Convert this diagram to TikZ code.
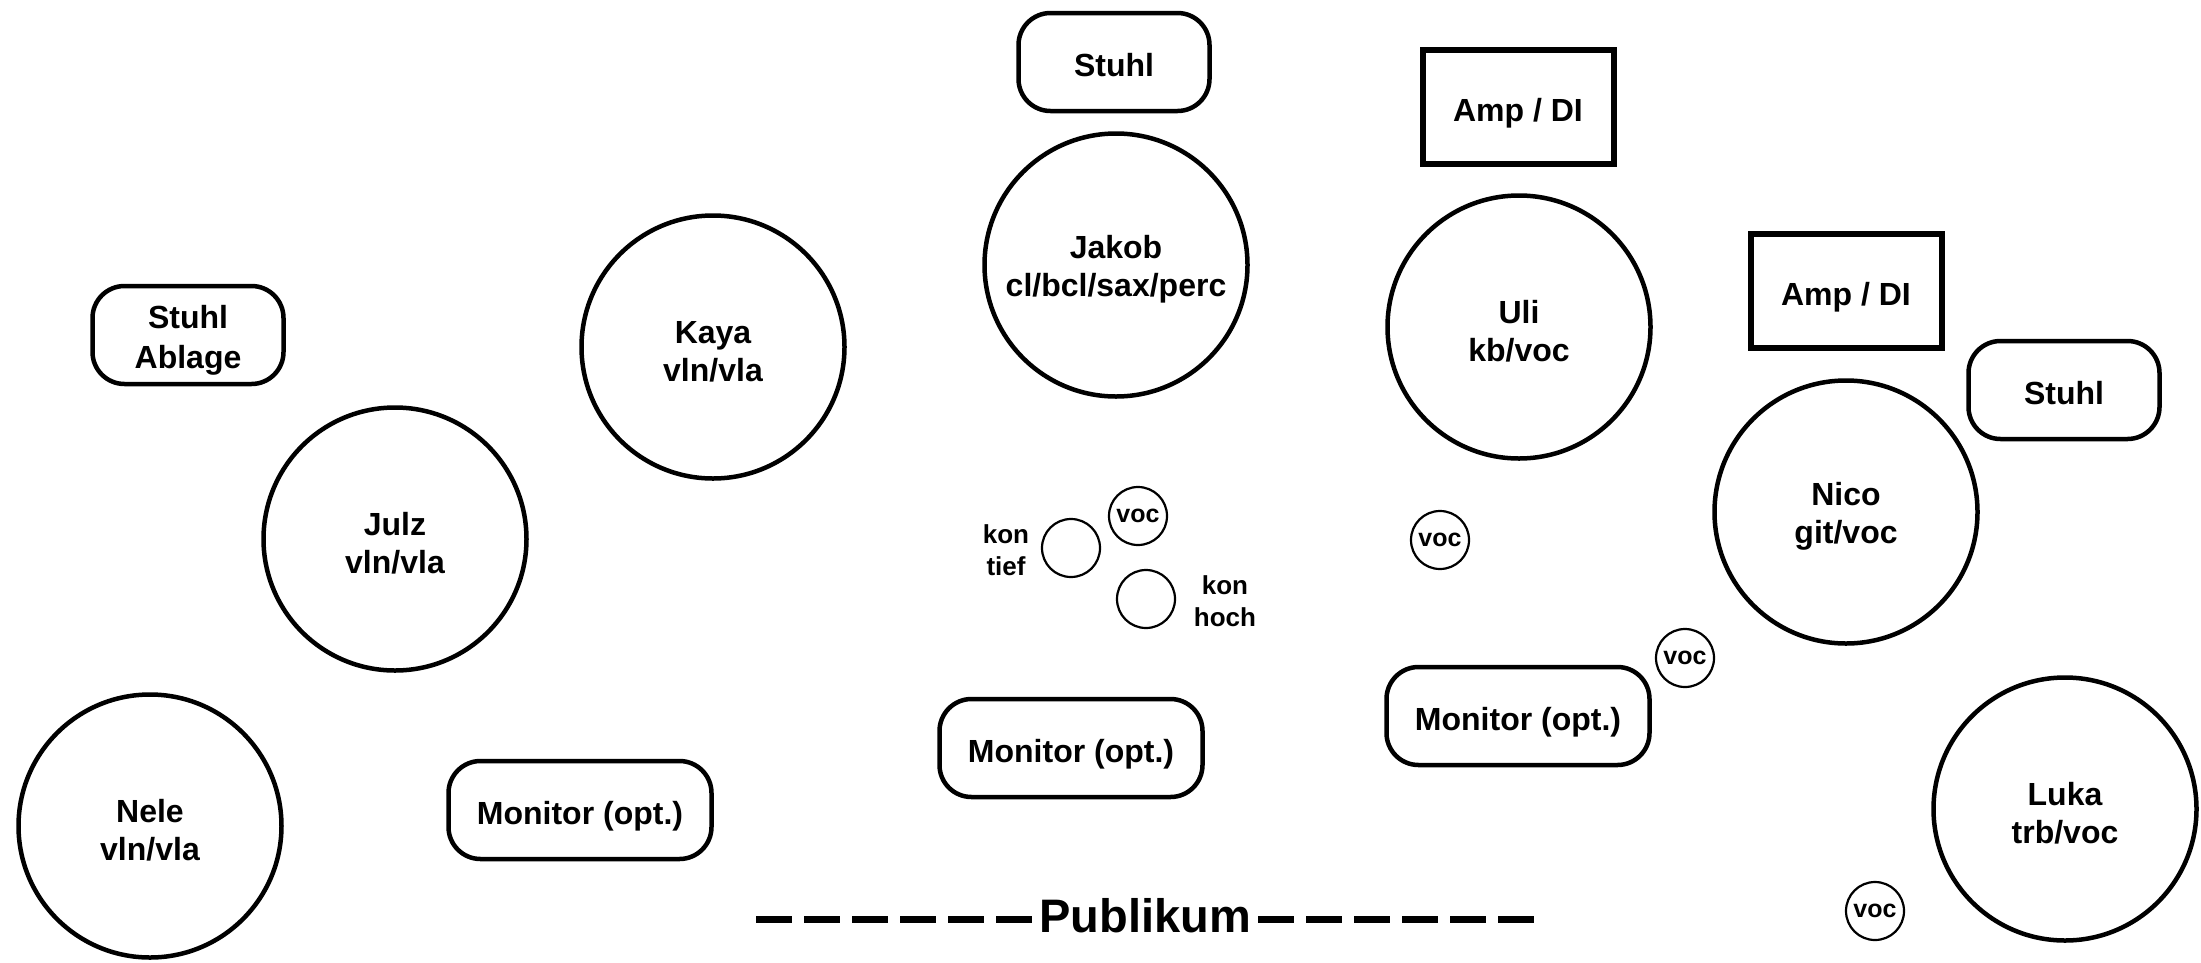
\documentclass[tikz,border=0pt]{standalone}
\usepackage{fontspec}
\setmainfont{Liberation Sans}
\newcommand\mytopstrut{\rule{0pt}{31pt}}
\begin{document}
\begin{tikzpicture}[x=1pt,y=-1pt,
  person/.style={circle,draw,line width=4.5pt,minimum size=263pt,inner sep=0pt,align=center,font=\bfseries\fontsize{32}{38}\selectfont},
  mic/.style={circle,draw,line width=2.2pt,minimum size=58pt,inner sep=0pt,font=\bfseries\fontsize{25}{30}\selectfont},
  rbox/.style={rectangle,rounded corners=32pt,draw,line width=4.5pt,minimum width=191pt,minimum height=98pt,inner sep=0pt,align=center,font=\bfseries\fontsize{32}{40}\selectfont},
  onel/.style={text height=28pt,text depth=0pt},
  ampbox/.style={rectangle,draw,line width=6pt,minimum width=191pt,minimum height=114pt,inner sep=0pt,text height=28pt,text depth=0pt,font=\bfseries\fontsize{32}{38}\selectfont},
  lbl/.style={align=center,inner sep=0pt,font=\bfseries\fontsize{26}{32}\selectfont},
  publine/.style={line width=7pt,dash pattern=on 36pt off 12pt}]
\useasboundingbox (0,0) rectangle (2201,962);

\node[rbox,onel] (stuhlA) at (1114,62) {Stuhl};
\node[ampbox] (amp1) at (1518,107) {Amp / DI};
\node[person] (jakob) at (1116,265) {\mytopstrut Jakob\\cl/bcl/sax/perc};
\node[person] (uli) at (1519,327) {\mytopstrut Uli\\kb/voc};
\node[ampbox] (amp2) at (1846,291) {Amp / DI};
\node[rbox,onel] (stuhlB) at (2064,390) {Stuhl};
\node[person] (nico) at (1846,512) {\mytopstrut Nico\\git/voc};
\node[person] (kaya) at (713,347) {\mytopstrut Kaya\\vln/vla};
\node[rbox] (stuhlC) at (188,335) {\rule{0pt}{33pt}Stuhl\\Ablage};
\node[person] (julz) at (395,539) {\mytopstrut Julz\\vln/vla};
\node[person] (nele) at (150,826) {\mytopstrut Nele\\vln/vla};
\node[rbox,onel,minimum width=263pt] (monL) at (580,810) {Monitor (opt.)};
\node[rbox,onel,minimum width=263pt] (monC) at (1071,748) {Monitor (opt.)};
\node[rbox,onel,minimum width=263pt] (monR) at (1518,716) {Monitor (opt.)};
\node[person] (luka) at (2065,809) {\mytopstrut Luka\\trb/voc};

\node[mic] (vocJ) at (1138,516) {voc};
\node[mic] (konT) at (1071,548) {};
\node[lbl] (konTlbl) at (1006,550) {kon\\tief};
\node[mic] (konH) at (1146,599) {};
\node[lbl] (konHlbl) at (1225,601) {kon\\hoch};
\node[mic] (vocU) at (1440,540) {voc};
\node[mic] (vocN) at (1685,658) {voc};
\node[mic] (vocL) at (1875,911) {voc};

\node[anchor=base,inner sep=0pt,font=\bfseries\fontsize{47}{56}\selectfont] (pub) at (1145,932) {Publikum};
\coordinate (dl1) at (756,919.5);
\coordinate (dl2) at (1032,919.5);
\coordinate (dr1) at (1258,919.5);
\coordinate (dr2) at (1534,919.5);
\draw[publine] (dl1) -- (dl2);
\draw[publine] (dr1) -- (dr2);
\end{tikzpicture}
\end{document}
